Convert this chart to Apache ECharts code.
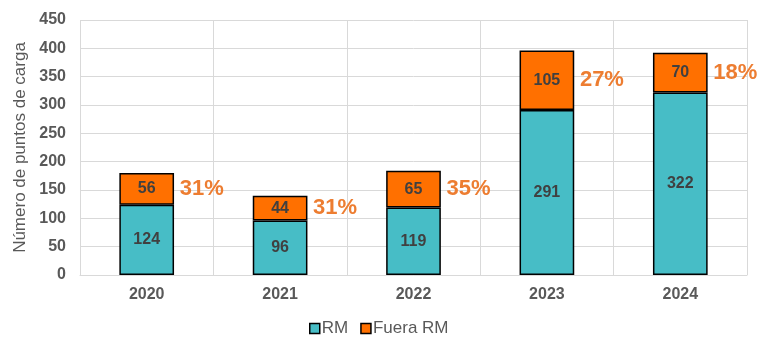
<!DOCTYPE html>
<html><head><meta charset="utf-8">
<script src="https://cdn.jsdelivr.net/npm/echarts@6/dist/echarts.min.js"></script>
<style>html,body{margin:0;padding:0;background:#fff}#c{width:772px;height:354px}</style>
</head><body><div id="c"></div>
<script>
const years = ['2020','2021','2022','2023','2024'];
const rm = [124, 96, 119, 291, 322];
const fueraRm = [56, 44, 65, 105, 70];
const pctFuera = ['31%','31%','35%','27%','18%'];
const yTicks = {min:0, max:450, interval:50};

const pctPoints = years.map((y,i)=>[y, rm[i] + fueraRm[i]/2]);
const chart = echarts.init(document.getElementById('c'));
const font = 'Liberation Sans, Arial, sans-serif';
chart.setOption({
  animation:false,
  textStyle:{fontFamily:font},
  grid:{left:80, right:25, top:20, bottom:79},
  legend:{
    data:['RM','Fuera RM'], bottom:12, left:304, icon:'rect', itemWidth:10, itemHeight:10, itemGap:12,
    textStyle:{fontFamily:font, fontSize:17, color:'#595959', padding:[0,0,0,-3]},
    itemStyle:{borderColor:'#000', borderWidth:1.5}
  },
  xAxis:{
    type:'category', data:years,
    axisLine:{lineStyle:{color:'#D9D9D9', width:1}},
    axisTick:{show:false},
    splitLine:{show:true, lineStyle:{color:'#D9D9D9'}},
    axisLabel:{fontFamily:font, fontSize:16, fontWeight:'bold', color:'#595959', margin:12}
  },
  yAxis:{
    type:'value', min:yTicks.min, max:yTicks.max, interval:yTicks.interval,
    name:'Número de puntos de carga', nameLocation:'middle', nameGap:51, nameRotate:90,
    nameTextStyle:{fontFamily:font, fontSize:17, color:'#595959'},
    axisLine:{show:false}, axisTick:{show:false},
    splitLine:{lineStyle:{color:'#D9D9D9'}},
    axisLabel:{fontFamily:font, fontSize:16, fontWeight:'bold', color:'#595959', margin:14}
  },
  series:[
    {name:'RM', type:'bar', stack:'t', data:rm, barWidth:'41%',
     itemStyle:{color:'#47BDC6', borderColor:'#000', borderWidth:1.5},
     label:{show:true, position:'inside', fontFamily:font, fontSize:16, fontWeight:'bold', color:'#404040'}},
    {name:'Fuera RM', type:'bar', stack:'t', data:fueraRm, barWidth:'41%',
     itemStyle:{color:'#FF7000', borderColor:'#000', borderWidth:1.5},
     label:{show:true, position:'inside', fontFamily:font, fontSize:16, fontWeight:'bold', color:'#404040'}},
    {name:'pct', type:'scatter', data:pctPoints, symbolSize:0, silent:true,
     itemStyle:{opacity:1},
     label:{show:true, position:'right', distance:33, opacity:1,
       formatter:p=>pctFuera[p.dataIndex],
       fontFamily:font, fontSize:22, fontWeight:'bold', color:'#ED7D31'}}
  ]
});
</script></body></html>
